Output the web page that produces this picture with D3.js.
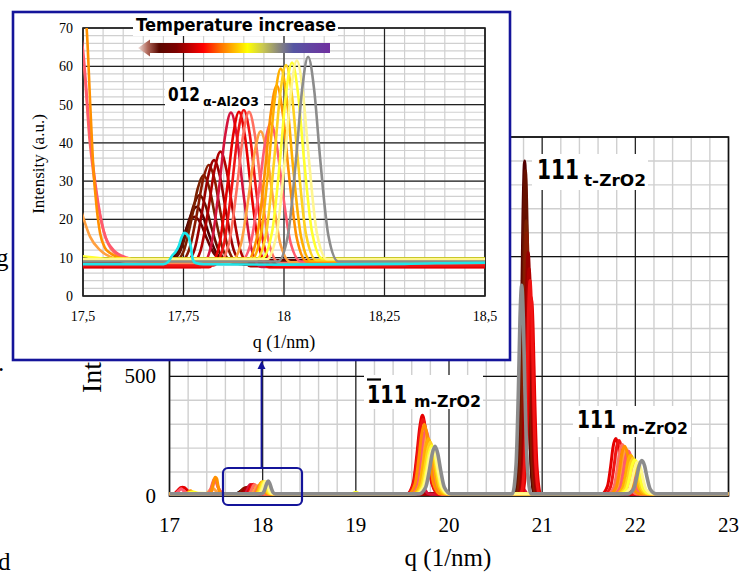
<!DOCTYPE html>
<html><head><meta charset="utf-8">
<script src="https://cdn.jsdelivr.net/npm/d3@7"></script>
<style>body{margin:0;background:#fff}svg{display:block}</style>
</head><body>
<svg id="c" width="741" height="572"></svg>
<script>
// ---------------- DATA (q in 1/nm, intensity in a.u.) ----------------
const s01Grey = [[17,9],[17.985,9],[18.01,16],[18.03,35.8],[18.045,53.9],[18.06,62.5],[18.075,53.9],[18.09,35.8],[18.11,16],[18.135,9],
 [19.68,9],[19.75,36.9],[19.79,108.5],[19.82,176.2],[19.85,208],[19.88,176.2],[19.91,108.5],[19.95,36.9],[20.02,9],
 [20.68,9],[20.72,130.9],[20.745,444.5],[20.762,740.6],[20.78,880],[20.798,740.6],[20.815,444.5],[20.84,130.9],[20.88,9],
 [21.915,9],[21.98,28.5],[22.015,78.5],[22.04,125.8],[22.07,148],[22.10,125.8],[22.125,78.5],[22.16,28.5],[22.225,9],[23,9]];
const s02PaleYellow = [[17,9.6],[17.957,9.6],[17.982,16.3],[18.002,35.6],[18.017,53.2],[18.032,61.5],[18.047,53.2],[18.062,35.6],[18.082,16.3],[18.107,9.6],
 [19.655,9.6],[19.725,36.3],[19.765,104.8],[19.795,169.5],[19.825,200],[19.855,169.5],[19.885,104.8],[19.925,36.3],[19.995,9.6],
 [21.87,9.6],[21.935,28.1],[21.97,75.8],[21.995,120.8],[22.025,142],[22.055,120.8],[22.08,75.8],[22.115,28.1],[22.18,9.6],[23,9.6]];
const s03Yellow = [[17,9.8],[17.18,9.8],[17.22,15],[17.25,18],[17.28,15],[17.32,11],[17.45,10.8],[17.5,10.4],[17.56,9.8],
 [17.945,9.8],[17.97,16.5],[17.99,35.4],[18.005,52.8],[18.02,61],[18.035,52.8],[18.05,35.4],[18.07,16.5],[18.095,9.8],
 [18.96,9.8],[18.99,15],[19.0,16],[19.01,15],[19.04,9.8],
 [19.645,9.8],[19.715,37.8],[19.755,109.9],[19.785,178],[19.815,210],[19.845,178],[19.875,109.9],[19.915,37.8],[19.985,9.8],
 [21.84,9.8],[21.905,29.4],[21.94,79.9],[21.965,127.6],[21.995,150],[22.025,127.6],[22.05,79.9],[22.085,29.4],[22.15,9.8],[23,9.8]];
const s04Gold = [[17,9.4],[17.93,9.4],[17.955,16],[17.975,34.9],[17.99,52.2],[18.005,60.3],[18.02,52.2],[18.035,34.9],[18.055,16],[18.08,9.4],
 [19.63,9.4],[19.70,39.6],[19.74,117.2],[19.77,190.5],[19.80,225],[19.83,190.5],[19.86,117.2],[19.90,39.6],[19.97,9.4],
 [21.82,9.4],[21.885,30.2],[21.92,83.7],[21.945,134.2],[21.975,158],[22.005,134.2],[22.03,83.7],[22.065,30.2],[22.13,9.4],[23,9.4]];
const s05OrangeYellow = [[17,9.2],[17.917,9.2],[17.942,15.7],[17.962,34.3],[17.977,51.4],[17.992,59.4],[18.007,51.4],[18.022,34.3],[18.042,15.7],[18.067,9.2],
 [19.61,9.2],[19.68,41.5],[19.72,124.6],[19.75,203.1],[19.78,240],[19.81,203.1],[19.84,124.6],[19.88,41.5],[19.95,9.2],
 [21.795,9.2],[21.86,31.7],[21.895,89.6],[21.92,144.3],[21.95,170],[21.98,144.3],[22.005,89.6],[22.04,31.7],[22.105,9.2],[23,9.2]];
const s06Orange = [[17,9],[17.17,9],[17.2,15],[17.225,22],[17.25,15],[17.28,9],
 [17.43,9],[17.45,20],[17.47,55],[17.49,78],[17.5,76],[17.509,70],[17.518,50],[17.526,33],[17.534,23],[17.5425,16.4],[17.555,12.5],[17.5675,11.2],[17.6,9.7],[17.65,9],
 [17.907,9],[17.932,15],[17.952,32],[17.967,47.6],[17.982,55],[17.997,47.6],[18.012,32],[18.032,15],[18.057,9],
 [19.565,9],[19.635,49.7],[19.675,154.5],[19.705,253.4],[19.735,300],[19.765,253.4],[19.795,154.5],[19.835,49.7],[19.905,9],
 [21.73,9],[21.795,36.9],[21.83,108.5],[21.855,176.2],[21.885,208],[21.915,176.2],[21.94,108.5],[21.975,36.9],[22.04,9],[23,9]];
const s07Pink = [[17,9],[17.06,9],[17.1,22],[17.125,30],[17.15,22],[17.19,9],
 [17.40,9],[17.43,16],[17.455,45],[17.475,68],[17.487,72],[17.5,64.2],[17.5175,41.6],[17.534,26.9],[17.551,17.2],[17.576,12],[17.61,10],[17.65,9],
 [17.892,9],[17.917,13.7],[17.937,27],[17.952,39.3],[17.967,45.1],[17.982,39.3],[17.997,27],[18.017,13.7],[18.042,9],
 [19.58,9],[19.65,46.9],[19.69,144.5],[19.72,236.6],[19.75,280],[19.78,236.6],[19.81,144.5],[19.85,46.9],[19.92,9],
 [21.77,9],[21.835,34.1],[21.87,98.5],[21.895,159.4],[21.925,188],[21.955,159.4],[21.98,98.5],[22.015,34.1],[22.08,9],[23,9]];
const s08Orange2 = [[17,8.8],[17.38,8.8],[17.41,14],[17.44,28],[17.46,33],[17.48,28],[17.5,20.7],[17.5175,15.5],[17.5425,12],[17.575,9.9],[17.62,8.8],
 [17.867,8.8],[17.892,13.2],[17.912,25.9],[17.927,37.5],[17.942,43],[17.957,37.5],[17.972,25.9],[17.992,13.2],[18.017,8.8],
 [19.59,8.8],[19.66,43.3],[19.70,131.9],[19.73,215.6],[19.76,255],[19.79,215.6],[19.82,131.9],[19.86,43.3],[19.93,8.8],
 [21.745,8.8],[21.81,34.9],[21.845,101.9],[21.87,165.2],[21.90,195],[21.93,165.2],[21.955,101.9],[21.99,34.9],[22.055,8.8],[23,8.8]];
const s09Salmon = [[17,8.6],[17.44,8.6],[17.46,30],[17.475,55],[17.485,60],[17.5,59.9],[17.517,40],[17.534,26],[17.551,17],[17.576,11.5],[17.61,9.6],[17.65,8.6],
 [17.838,8.6],[17.863,13.7],[17.883,28.4],[17.898,41.8],[17.913,48.1],[17.928,41.8],[17.943,28.4],[17.963,13.7],[17.988,8.6],
 [19.575,8.6],[19.645,44.5],[19.685,136.8],[19.715,224],[19.745,265],[19.775,224],[19.805,136.8],[19.845,44.5],[19.915,8.6],
 [21.705,8.6],[21.77,37.5],[21.805,111.8],[21.83,182],[21.86,215],[21.89,182],[21.915,111.8],[21.95,37.5],[22.015,8.6],[23,8.6]];
const s10RedOrange = [[17,8],[17.825,8],[17.85,13.3],[17.87,28.3],[17.885,42.1],[17.90,48.6],[17.915,42.1],[17.93,28.3],[17.95,13.3],[17.975,8],
 [19.55,8],[19.62,51.7],[19.66,164],[19.69,270],[19.72,320],[19.75,270],[19.78,164],[19.82,51.7],[19.89,8],
 [20.77,8],[20.81,132.9],[20.835,454],[20.852,757.3],[20.87,900],[20.888,757.3],[20.905,454],[20.93,132.9],[20.97,8],
 [21.67,8],[21.735,39.4],[21.77,120],[21.795,196.2],[21.825,232],[21.855,196.2],[21.88,120],[21.915,39.4],[21.98,8],[23,8]];
const s11Red = [[17,7.5],[17.05,10],[17.09,24],[17.12,35],[17.14,37],[17.16,35],[17.19,24],[17.23,10],[17.28,7.5],
 [17.813,7.5],[17.838,12.8],[17.858,27.8],[17.873,41.6],[17.888,48.1],[17.903,41.6],[17.918,27.8],[17.938,12.8],[17.963,7.5],
 [19.545,7.5],[19.615,53.6],[19.655,172.3],[19.685,284.3],[19.715,337],[19.745,284.3],[19.775,172.3],[19.815,53.6],[19.885,7.5],
 [20.785,7.5],[20.825,122.7],[20.85,418.8],[20.867,698.4],[20.885,830],[20.903,698.4],[20.92,418.8],[20.945,122.7],[20.985,7.5],
 [21.635,7.5],[21.70,40.1],[21.735,123.8],[21.76,202.8],[21.79,240],[21.82,202.8],[21.845,123.8],[21.88,40.1],[21.945,7.5],[23,7.5]];
const s12Crimson = [[17,7.6],[17.793,7.6],[17.818,12.8],[17.838,27.8],[17.853,41.5],[17.868,47.9],[17.883,41.5],[17.898,27.8],[17.918,12.8],[17.943,7.6],
 [19.62,7.6],[19.67,11.4],[19.69,21.3],[19.705,30.6],[19.72,35],[19.735,30.6],[19.75,21.3],[19.77,11.4],[19.82,7.6],
 [20.74,7.6],[20.77,14],[20.785,22],[20.8,30],[20.815,22],[20.83,14],[20.86,7.6],
 [21.68,7.6],[21.73,11.2],[21.75,20.3],[21.765,28.9],[21.78,33],[21.795,28.9],[21.81,20.3],[21.83,11.2],[21.88,7.6],[23,7.6]];
const s13DarkRed = [[17,7.8],[17.767,7.8],[17.792,11.7],[17.812,22.8],[17.827,32.9],[17.842,37.7],[17.857,32.9],[17.872,22.8],[17.892,11.7],[17.917,7.8],
 [20.76,7.8],[20.80,139.7],[20.825,478.9],[20.842,799.2],[20.86,950],[20.878,799.2],[20.895,478.9],[20.92,139.7],[20.96,7.8],[23,7.8]];
const s14DarkRed2 = [[17,8.2],[17.751,8.2],[17.776,11.7],[17.796,21.9],[17.811,31.1],[17.826,35.5],[17.841,31.1],[17.856,21.9],[17.876,11.7],[17.901,8.2],
 [20.75,8.2],[20.79,149.4],[20.815,512.6],[20.832,855.6],[20.85,1017],[20.868,855.6],[20.885,512.6],[20.91,149.4],[20.95,8.2],[23,8.2]];
const s15BrownRed = [[17,8.4],[17.738,8.4],[17.763,11.8],[17.783,21.3],[17.798,30.1],[17.813,34.2],[17.828,30.1],[17.843,21.3],[17.863,11.8],[17.888,8.4],
 [20.735,8.4],[20.775,161.2],[20.80,554.2],[20.817,925.4],[20.835,1100],[20.853,925.4],[20.87,554.2],[20.895,161.2],[20.935,8.4],[23,8.4]];
const s16Brown = [[17,8.6],[17.725,8.6],[17.75,11.6],[17.77,20.1],[17.785,27.9],[17.80,31.6],[17.815,27.9],[17.83,20.1],[17.85,11.6],[17.875,8.6],
 [20.728,8.6],[20.768,168.4],[20.793,579.3],[20.81,967.4],[20.828,1150],[20.846,967.4],[20.863,579.3],[20.888,168.4],[20.928,8.6],[23,8.6]];
const s17DarkBrown = [[17,9],[17.715,9],[17.74,11.3],[17.76,17.7],[17.775,23.6],[17.79,26.4],[17.805,23.6],[17.82,17.7],[17.84,11.3],[17.865,9],
 [20.72,9],[20.76,198.1],[20.785,684.5],[20.802,1143.8],[20.82,1360],[20.838,1143.8],[20.855,684.5],[20.88,198.1],[20.92,9],[23,9]];
const s18Darkest = [[17,9.2],[17.708,9.2],[17.733,11],[17.753,16.2],[17.768,21],[17.783,23.3],[17.798,21],[17.813,16.2],[17.833,11],[17.858,9.2],
 [20.712,9.2],[20.752,203.9],[20.777,704.6],[20.794,1177.5],[20.812,1400],[20.83,1177.5],[20.847,704.6],[20.872,203.9],[20.912,9.2],[23,9.2]];
const s19Maroon = [[17,9.3],[17.703,9.3],[17.728,10.8],[17.748,15],[17.763,18.9],[17.778,20.7],[17.793,18.9],[17.808,15],[17.828,10.8],[17.853,9.3],
 [20.715,9.3],[20.755,183],[20.78,629.7],[20.797,1051.5],[20.815,1250],[20.833,1051.5],[20.85,629.7],[20.875,183],[20.915,9.3],[23,9.3]];
const s20Cyan = [[17,8.3],[17.70,8.3],[17.712,8.9],[17.722,10.6],[17.73,11.5],[17.738,13],[17.746,15.5],[17.752,16.5],[17.762,15.6],[17.768,13],[17.773,9.6],[17.78,8.6],[17.80,8.3],[18.0,8.2],[18.3,8.4],[18.5,8.7],[23,8.7]];

// drawing order: hottest (dark) first, grey last
const seriesList = [s19Maroon,s18Darkest,s17DarkBrown,s16Brown,s15BrownRed,s14DarkRed2,s13DarkRed,s12Crimson,s11Red,s10RedOrange,s09Salmon,s08Orange2,s07Pink,s06Orange,s05OrangeYellow,s04Gold,s03Yellow,s02PaleYellow,s01Grey];
const seriesColors = ["#6e0000","#520000","#661000","#7a2000","#8a1a00","#990000","#b00000","#d4143c","#e60000","#f01414","#ff7060","#ffa040","#ff5a6e","#ff9000","#ffb000","#ffd21f","#ffff2e","#fff68f","#8c8c8c"];
const cyanColor = "#1ee6ea";

const mainXTicks = [17,18,19,20,21,22,23];
const mainXTickLabels = ["17","18","19","20","21","22","23"];
const mainYTicks = [0,500,1000,1500];
const mainYTickLabels = ["0","500","1000","1500"];
const insetXTicks = [17.5,17.75,18,18.25,18.5];
const insetXTickLabels = ["17,5","17,75","18","18,25","18,5"];
const insetYTicks = [0,10,20,30,40,50,60,70];
const insetYTickLabels = ["0","10","20","30","40","50","60","70"];

// ---------------- DRAWING ----------------
const svg = d3.select('#c');
const defs = svg.append('defs');
const serif = "'Liberation Serif','Times New Roman',serif";
const comic = "'Comic Sans MS','DejaVu Sans',sans-serif";

// ===== main chart =====
const mx = d3.scaleLinear().domain([17,23]).range([169.5,728.5]);
const my = d3.scaleLinear().domain([0,1500]).range([496,137]);
const gm = svg.append('g');

const mxMinor = d3.range(0,31).map(i => 17 + i*0.2);
const myMinor = d3.range(0,16).map(i => i*100);
gm.append('g').selectAll('line').data(mxMinor).join('line')
  .attr('x1',d=>mx(d)).attr('x2',d=>mx(d)).attr('y1',my(0)).attr('y2',my(1500))
  .attr('stroke','#cfcfcf').attr('stroke-width',1.4);
gm.append('g').selectAll('line').data(myMinor).join('line')
  .attr('x1',mx(17)).attr('x2',mx(23)).attr('y1',d=>my(d)).attr('y2',d=>my(d))
  .attr('stroke','#cfcfcf').attr('stroke-width',1.4);
gm.append('g').selectAll('line').data(mainXTicks).join('line')
  .attr('x1',d=>mx(d)).attr('x2',d=>mx(d)).attr('y1',my(0)).attr('y2',my(1500))
  .attr('stroke','#111').attr('stroke-width',1.1);
gm.append('g').selectAll('line').data(mainYTicks).join('line')
  .attr('x1',mx(17)).attr('x2',mx(23)).attr('y1',d=>my(d)).attr('y2',d=>my(d))
  .attr('stroke','#111').attr('stroke-width',1.1);
gm.append('rect').attr('x',mx(17)).attr('y',my(1500)).attr('width',mx(23)-mx(17)).attr('height',my(0)-my(1500))
  .attr('fill','none').attr('stroke','#111').attr('stroke-width',1.6);

defs.append('clipPath').attr('id','clipMain').append('rect')
  .attr('x',mx(17)).attr('y',my(1500)).attr('width',mx(23)-mx(17)).attr('height',my(0)-my(1500)+3);
const lineMain = d3.line().x(d=>mx(d[0])).y(d=>my(d[1])).curve(d3.curveMonotoneX);
const gmL = gm.append('g').attr('clip-path','url(#clipMain)');
gmL.append('path').attr('d',lineMain(s20Cyan)).attr('fill','none').attr('stroke',cyanColor).attr('stroke-width',3);
seriesList.forEach((s,i)=>{
  gmL.append('path').attr('d',lineMain(s)).attr('fill','none')
    .attr('stroke',seriesColors[i]).attr('stroke-width', i===seriesList.length-1 ? 3.6 : 3)
    .attr('stroke-linejoin','round');
});

// main tick labels
gm.append('g').selectAll('text').data(mainXTicks).join('text')
  .attr('x',d=>mx(d)).attr('y',532).attr('text-anchor','middle')
  .attr('font-family',serif).attr('font-size',21).attr('fill','#000')
  .text((d,i)=>mainXTickLabels[i]);
gm.append('g').selectAll('text').data(mainYTicks).join('text')
  .attr('x',156).attr('y',d=>my(d)+7).attr('text-anchor','end')
  .attr('font-family',serif).attr('font-size',21).attr('fill','#000')
  .text((d,i)=>mainYTickLabels[i]);
gm.append('text').attr('x',448).attr('y',566).attr('text-anchor','middle')
  .attr('font-family',serif).attr('font-size',25).text('q (1/nm)');
gm.append('text').attr('transform','translate(101,393) rotate(-90)').attr('text-anchor','start')
  .attr('font-family',serif).attr('font-size',28).text('Intensity (a.u.)');

// main peak labels
function peakLabel(bx,by,bw,bh,mainTxt,mx0,mBase,mSize,mLen,subTxt,sx0,sBase,sSize,sLen){
  gm.append('rect').attr('x',bx).attr('y',by).attr('width',bw).attr('height',bh).attr('fill','#fff');
  gm.append('text').attr('x',mx0).attr('y',mBase).attr('font-family',comic).attr('font-weight','bold')
    .attr('font-size',mSize).attr('textLength',mLen).attr('lengthAdjust','spacingAndGlyphs').text(mainTxt);
  gm.append('text').attr('x',sx0).attr('y',sBase).attr('font-family',comic).attr('font-weight','bold')
    .attr('font-size',sSize).attr('textLength',sLen).attr('lengthAdjust','spacingAndGlyphs').text(subTxt);
}
peakLabel(532,154,116,36,'111',537,179,26,42,'t-ZrO2',584,186,15,62);
peakLabel(364,375,119,34,'111',367,403,25,40,'m-ZrO2',414,407,15,67);
gm.append('line').attr('x1',367).attr('x2',381).attr('y1',379.5).attr('y2',379.5).attr('stroke','#000').attr('stroke-width',2.2);
peakLabel(573,406,118,31,'111',577,428,25,39,'m-ZrO2',622,434,15,66);

// zoom box + arrow
gm.append('rect').attr('x',223).attr('y',468).attr('width',79).attr('height',37).attr('rx',5)
  .attr('fill','none').attr('stroke','#14149a').attr('stroke-width',2.2);
gm.append('line').attr('x1',261.5).attr('x2',261.5).attr('y1',468).attr('y2',367)
  .attr('stroke','#14149a').attr('stroke-width',1.8);
gm.append('path').attr('d','M261.5,361 L257.5,369 L265.5,369 Z').attr('fill','#14149a');

// stray text fragments at left edge (from surrounding document)
svg.append('text').attr('x',-4).attr('y',266).attr('font-family',serif).attr('font-size',25).text('g');
svg.append('text').attr('x',-2).attr('y',371).attr('font-family',serif).attr('font-size',25).text('.');
svg.append('text').attr('x',-2).attr('y',570).attr('font-family',serif).attr('font-size',25).text('d');

// ===== inset =====
const gi = svg.append('g');
gi.append('rect').attr('x',13).attr('y',12).attr('width',497).attr('height',348)
  .attr('fill','#fff').attr('stroke','#14149a').attr('stroke-width',2.6);
const ix = d3.scaleLinear().domain([17.5,18.5]).range([83,485]);
const iy = d3.scaleLinear().domain([0,70]).range([296,28]);
const ixMinor = d3.range(0,21).map(i => 17.5 + i*0.05);
const iyMinor = d3.range(0,36).map(i => i*2);
gi.append('g').selectAll('line').data(ixMinor).join('line')
  .attr('x1',d=>ix(d)).attr('x2',d=>ix(d)).attr('y1',iy(0)).attr('y2',iy(70))
  .attr('stroke','#d0d0d0').attr('stroke-width',1.2);
gi.append('g').selectAll('line').data(iyMinor).join('line')
  .attr('x1',ix(17.5)).attr('x2',ix(18.5)).attr('y1',d=>iy(d)).attr('y2',d=>iy(d))
  .attr('stroke','#d0d0d0').attr('stroke-width',1.2);
gi.append('g').selectAll('line').data(insetXTicks).join('line')
  .attr('x1',d=>ix(d)).attr('x2',d=>ix(d)).attr('y1',iy(0)).attr('y2',iy(70))
  .attr('stroke','#222').attr('stroke-width',1.2);
gi.append('g').selectAll('line').data(insetYTicks).join('line')
  .attr('x1',ix(17.5)).attr('x2',ix(18.5)).attr('y1',d=>iy(d)).attr('y2',d=>iy(d))
  .attr('stroke','#222').attr('stroke-width',1.2);
gi.append('rect').attr('x',ix(17.5)).attr('y',iy(70)).attr('width',ix(18.5)-ix(17.5)).attr('height',iy(0)-iy(70))
  .attr('fill','none').attr('stroke','#222').attr('stroke-width',1.6);

defs.append('clipPath').attr('id','clipInset').append('rect')
  .attr('x',ix(17.5)).attr('y',iy(70)).attr('width',ix(18.5)-ix(17.5)).attr('height',iy(0)-iy(70));
const lineInset = d3.line().x(d=>ix(d[0])).y(d=>iy(d[1])).curve(d3.curveMonotoneX);
const giL = gi.append('g').attr('clip-path','url(#clipInset)');
seriesList.forEach((s,i)=>{
  giL.append('path').attr('d',lineInset(s.filter(p=>p[0]>=17.3 && p[0]<=18.7 || p[0]===17 || p[0]===23)))
    .attr('fill','none').attr('stroke',seriesColors[i]).attr('stroke-width',2.6).attr('stroke-linejoin','round');
});
giL.append('path').attr('d',lineInset(s20Cyan)).attr('fill','none').attr('stroke',cyanColor).attr('stroke-width',2.6);

// inset tick labels & titles
gi.append('g').selectAll('text').data(insetXTicks).join('text')
  .attr('x',d=>ix(d)).attr('y',321).attr('text-anchor','middle')
  .attr('font-family',serif).attr('font-size',14).text((d,i)=>insetXTickLabels[i]);
gi.append('g').selectAll('text').data(insetYTicks).join('text')
  .attr('x',73).attr('y',d=>iy(d)+5).attr('text-anchor','end')
  .attr('font-family',serif).attr('font-size',14).text((d,i)=>insetYTickLabels[i]);
gi.append('text').attr('x',284).attr('y',348).attr('text-anchor','middle')
  .attr('font-family',serif).attr('font-size',18).text('q (1/nm)');
gi.append('text').attr('transform','translate(44,164) rotate(-90)').attr('text-anchor','middle')
  .attr('font-family',serif).attr('font-size',17).text('Intensity (a.u.)');

// title + gradient arrow
gi.append('rect').attr('x',133).attr('y',16).attr('width',205).attr('height',20).attr('fill','#fff');
gi.append('text').attr('x',136).attr('y',31).attr('font-family',comic).attr('font-weight','bold')
  .attr('font-size',17).attr('textLength',200).attr('lengthAdjust','spacingAndGlyphs').text('Temperature increase');
const grad = defs.append('linearGradient').attr('id','tempGrad').attr('gradientUnits','userSpaceOnUse')
  .attr('x1',138).attr('x2',330).attr('y1',0).attr('y2',0);
[[0,'#f3e3de'],[0.05,'#b0685a'],[0.11,'#5a0800'],[0.2,'#7d0000'],[0.27,'#bf0000'],[0.34,'#ff0000'],[0.43,'#ff7000'],[0.5,'#ffb800'],[0.57,'#ffff00'],[0.65,'#c9c850'],[0.73,'#8c8a7c'],[0.81,'#5656a2'],[1,'#7030a0']]
  .forEach(s=>grad.append('stop').attr('offset',s[0]).attr('stop-color',s[1]));
gi.append('path').attr('d','M138,48 L150,39.5 L150,43 L330,43 L330,53 L150,53 L150,56.5 Z').attr('fill','url(#tempGrad)');

// Al2O3 label
gi.append('rect').attr('x',165).attr('y',82).attr('width',99).attr('height',27).attr('fill','#fff');
gi.append('text').attr('x',168).attr('y',101).attr('font-family',comic).attr('font-weight','bold')
  .attr('font-size',19).attr('textLength',32).attr('lengthAdjust','spacingAndGlyphs').text('012');
gi.append('text').attr('x',203).attr('y',106).attr('font-family',comic).attr('font-weight','bold')
  .attr('font-size',12.5).attr('textLength',56).attr('lengthAdjust','spacingAndGlyphs').text('α-Al2O3');
</script>
</body></html>
